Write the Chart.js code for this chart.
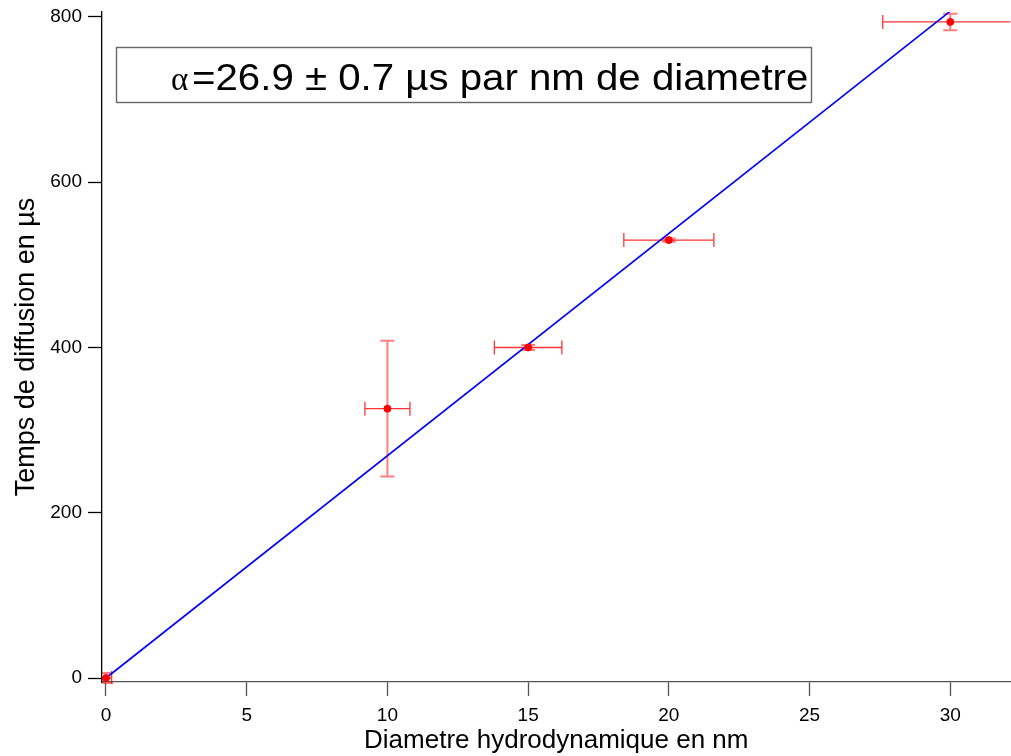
<!DOCTYPE html>
<html>
<head>
<meta charset="utf-8">
<script src="https://cdn.jsdelivr.net/npm/chart.js@4.4.1/dist/chart.umd.min.js"></script>
<style>
  html, body { margin: 0; padding: 0; background: #fff; overflow: hidden; width: 1011px; height: 756px; }
  canvas { display: block; }
</style>
</head>
<body>
<!-- 4 px de plus : Chart.js garde une petite marge à droite -->
<canvas id="diffChart" width="1015" height="756"></canvas>
<script>
// données
const diametres = [0, 10, 15, 20, 30];
const temps = [0, 326, 400, 530, 794];
const errDiametre = [0.2, 0.8, 1.2, 1.6, 2.4];
const errTemps = [6, 82, 3, 2, 10];

// droite d'ajustement
const fitX = [0, 30];
const fitY = [0, 807];

const xTicks = [0, 5, 10, 15, 20, 25, 30];
const yTicks = [0, 200, 400, 600, 800];

const annotationAlpha = 'α';
const annotationText = '=26.9 ± 0.7 µs par nm de diametre';

const FONT = "'Liberation Sans', Arial, sans-serif";

// barres d'erreur dessinées avec les échelles du graphique
const errorBars = {
    id: 'errorBars',
    beforeDatasetsDraw(chart) {
        const { ctx, chartArea, scales: { x, y } } = chart;
        ctx.save();
        ctx.beginPath();
        ctx.rect(chartArea.left, chartArea.top - 2, chartArea.right - chartArea.left, chartArea.bottom - chartArea.top + 4);
        ctx.clip();
        diametres.forEach((d, i) => {
            const px = x.getPixelForValue(d);
            const py = y.getPixelForValue(temps[i]);
            // verticale (pâle)
            const y1 = y.getPixelForValue(temps[i] + errTemps[i]);
            const y2 = y.getPixelForValue(temps[i] - errTemps[i]);
            ctx.strokeStyle = 'rgba(255, 0, 0, 0.5)';
            ctx.lineWidth = 2;
            ctx.beginPath();
            ctx.moveTo(px, y1); ctx.lineTo(px, y2);
            ctx.moveTo(px - 7, y1); ctx.lineTo(px + 7, y1);
            ctx.moveTo(px - 7, y2); ctx.lineTo(px + 7, y2);
            ctx.stroke();
            // horizontale
            const x1 = x.getPixelForValue(d - errDiametre[i]);
            const x2 = x.getPixelForValue(d + errDiametre[i]);
            ctx.strokeStyle = 'rgba(255, 0, 0, 0.8)';
            ctx.lineWidth = 1.3;
            ctx.beginPath();
            ctx.moveTo(x1, py); ctx.lineTo(x2, py);
            ctx.moveTo(x1, py - 7); ctx.lineTo(x1, py + 7);
            ctx.moveTo(x2, py - 7); ctx.lineTo(x2, py + 7);
            ctx.stroke();
        });
        ctx.restore();
    }
};

// encadré avec la pente
const annotationBox = {
    id: 'annotationBox',
    afterDraw(chart) {
        const { ctx, chartArea } = chart;
        const left = chartArea.left + 14;
        const top = chartArea.top + 35;
        ctx.save();
        ctx.fillStyle = '#fff';
        ctx.fillRect(left, top, 695, 55);
        ctx.strokeStyle = '#666';
        ctx.lineWidth = 1.4;
        ctx.strokeRect(left + 0.5, top + 0.5, 695, 55);
        ctx.fillStyle = '#000';
        ctx.textBaseline = 'alphabetic';
        const by = top + 42.5;
        ctx.font = "33px 'Liberation Serif', serif";
        ctx.fillText(annotationAlpha, left + 55, by);
        // texte légèrement étiré horizontalement comme sur l'original
        ctx.font = '36px ' + FONT;
        ctx.translate(left + 76, by);
        ctx.scale(1.117, 1);
        ctx.fillText(annotationText, 0, 0);
        ctx.restore();
    }
};

const ctx = document.getElementById('diffChart').getContext('2d');
new Chart(ctx, {
    type: 'scatter',
    data: {
        datasets: [
            {
                label: 'mesures',
                data: diametres.map((d, i) => ({ x: d, y: temps[i] })),
                backgroundColor: '#ff0000',
                borderColor: '#ff0000',
                pointRadius: 3.5,
                pointHoverRadius: 3.5,
                showLine: false
            },
            {
                label: 'ajustement',
                data: fitX.map((d, i) => ({ x: d, y: fitY[i] })),
                borderColor: '#0000ff',
                borderWidth: 1.6,
                pointRadius: 0,
                showLine: true,
                fill: false
            }
        ]
    },
    options: {
        responsive: false,
        animation: false,
        layout: { padding: { top: 12, right: 1, bottom: 0, left: 0 } },
        plugins: {
            legend: { display: false },
            tooltip: { enabled: false }
        },
        scales: {
            x: {
                type: 'linear',
                min: -0.142,
                max: 32.14,
                afterBuildTicks: (scale) => { scale.ticks = xTicks.map(v => ({ value: v })); },
                afterFit: (scale) => {
                    scale.height = 74;
                    scale.paddingLeft = 0;
                    scale.paddingRight = 0;
                },
                grid: { drawOnChartArea: false, drawTicks: true, tickLength: 14, tickColor: '#555', tickWidth: 1.3 },
                border: { display: true, color: '#555', width: 1.3 },
                ticks: { color: '#000', font: { family: FONT, size: 19 }, padding: 8, maxRotation: 0 },
                title: {
                    display: true,
                    text: 'Diametre hydrodynamique en nm',
                    color: '#000',
                    font: { family: FONT, size: 26 },
                    padding: { top: 0, bottom: 0 }
                }
            },
            y: {
                type: 'linear',
                min: -4.84,
                max: 806,
                afterBuildTicks: (scale) => { scale.ticks = yTicks.map(v => ({ value: v })); },
                afterFit: (scale) => {
                    scale.width = 102;
                    scale.paddingTop = 0;
                    scale.paddingBottom = 0;
                },
                grid: { drawOnChartArea: false, drawTicks: true, tickLength: 14, tickColor: '#000', tickWidth: 1.3 },
                border: { display: true, color: '#000', width: 1.3 },
                ticks: { color: '#000', font: { family: FONT, size: 19 }, padding: 6 },
                title: {
                    display: true,
                    text: 'Temps de diffusion en µs',
                    color: '#000',
                    font: { family: FONT, size: 27 },
                    padding: { top: 10, bottom: 0 }
                }
            }
        }
    },
    plugins: [errorBars, annotationBox]
});
</script>
</body>
</html>
